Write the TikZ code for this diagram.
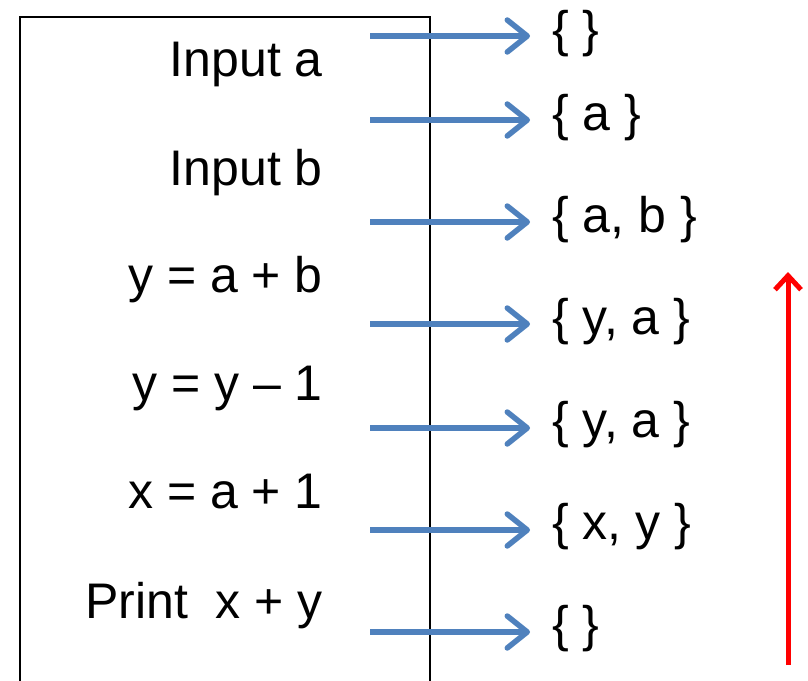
\documentclass[tikz,border=0pt]{standalone}
\usepackage{fontspec}
\setmainfont{Liberation Sans}
\usetikzlibrary{arrows.meta}
\definecolor{arrblue}{HTML}{4F81BD}
\begin{document}
\begin{tikzpicture}[x=1pt,y=-1pt,
  code/.style={anchor=base east,inner sep=0pt,font=\fontsize{50}{60}\selectfont},
  setlbl/.style={anchor=base west,inner sep=0pt,font=\fontsize{50}{60}\selectfont},
  flow/.style={draw=arrblue,line width=5.5pt,-{Straight Barb[length=20pt,width=32pt,line cap=round,line join=round]}},
  back/.style={draw=red,line width=5pt,-{Straight Barb[length=14pt,width=26pt,line join=miter]}}]
\useasboundingbox (0,0) rectangle (808,680);
\clip (0,0) rectangle (808,680);
\draw[line width=1.2pt] (20,17) rectangle (430,720);
% statements
\node[code] (s1) at (323,76) {Input a};
\node[code] (s2) at (323,185) {Input b};
\node[code] (s3) at (323,292) {y = a + b};
\node[code] (s4) at (323,400) {y = y – 1};
\node[code] (s5) at (323,508) {x = a + 1};
\node[code] (s6) at (323,618) {Print\ \ x + y};
% sets
\node[setlbl] (r1) at (552,46) {\{ \}};
\node[setlbl] (r2) at (552,130) {\{ a \}};
\node[setlbl] (r3) at (552,232) {\{ a, b \}};
\node[setlbl] (r4) at (552,334) {\{ y, a \}};
\node[setlbl] (r5) at (552,437) {\{ y, a \}};
\node[setlbl] (r6) at (552,539) {\{ x, y \}};
\node[setlbl] (r7) at (552,641) {\{ \}};
% arrows
\foreach \i/\y in {1/36,2/120,3/222,4/324,5/428,6/530,7/632}{
  \coordinate (a\i s) at (370,\y);
  \coordinate (a\i e) at (530,\y);
  \draw[flow] (a\i s) -- (a\i e);
}
\coordinate (rs) at (788,665);
\coordinate (re) at (788,272);
\draw[back] (rs) -- (re);
\end{tikzpicture}
\end{document}
